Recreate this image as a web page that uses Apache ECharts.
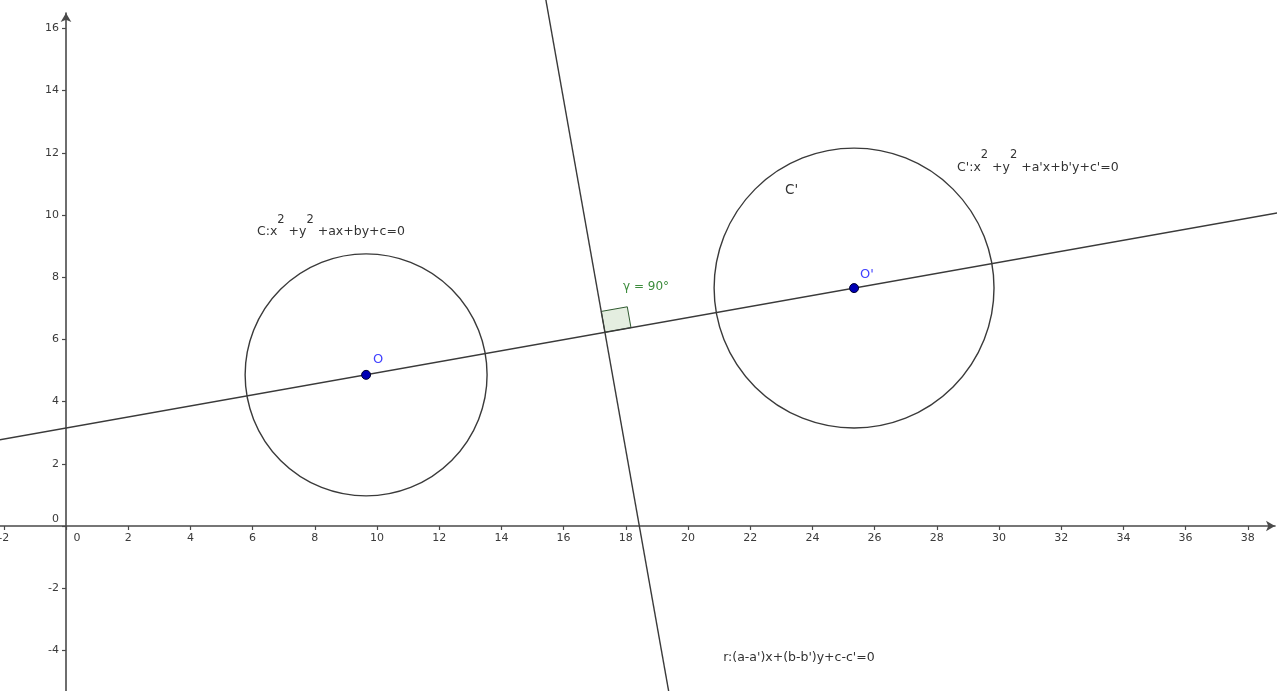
<!DOCTYPE html>
<html>
<head>
<meta charset="utf-8">
<script src="https://cdn.jsdelivr.net/npm/echarts@6/dist/echarts.min.js"></script>
<style>
html,body{margin:0;padding:0;background:#fff;}
#chart{width:1282px;height:691px;}
</style>
</head>
<body>
<div id="chart"></div>
<script>
// ---- data ----
const xTickValues = [-2,0,2,4,6,8,10,12,14,16,18,20,22,24,26,28,30,32,34,36,38];
const yTickValues = [-4,-2,0,2,4,6,8,10,12,14,16];
// circles: [centerX, centerY, radius]
const circleC = [9.65, 4.86, 3.89];
const circleC2 = [25.34, 7.65, 4.5];
// points
const pointNames = ['O', "O'"];
const pointValues = [[9.65, 4.86], [25.34, 7.65]];
// line through the centres
const centerLine = [[-2.3, 2.74], [39.3, 10.13]];
// radical axis r
const radicalLine = [[15.38, 17.2], [19.43, -5.6]];
// right-angle marker vertex (intersection) and side lengths
const angleVertex = [17.33, 6.23];
const angleSides = [0.85, 0.68];
// text annotations
const labelTexts = [
  'C:x{s|2} +y{s|2} +ax+by+c=0',
  "C':x{s|2} +y{s|2} +a'x+b'y+c'=0",
  "r:(a-a')x+(b-b')y+c-c'=0",
  "C'",
  'O',
  "O'",
  'γ = 90°'
];
const labelAnchors = [
  [6.14, 9.45], [28.65, 11.53], [21.13, -4.24], [23.12, 10.79], [9.87, 5.34], [25.53, 8.07], [17.91, 7.68]
];
const labelKinds = ['eq','eq','eq','name','blue','blue','green'];

// ---- chart ----
const FONT = '"DejaVu Sans", "Liberation Sans", Arial, sans-serif';
const kindColor = {eq:'#333333', name:'#333333', blue:'#3f3fff', green:'#3c8c3c'};
const kindSize = {eq:12.5, name:13.5, blue:13, green:12};

const W = 1282, H = 691;
const gridBox = {left:0, right:7, top:13, bottom:0};
const xMin = -2.122, xMax = 38.875, yMin = -5.305, yMax = 16.495;
const gridW = W - gridBox.left - gridBox.right;
const gridH = H - gridBox.top - gridBox.bottom;
// move each axis onto the other axis' zero (labels follow)
const xAxisOffset = -gridH * (0 - yMin) / (yMax - yMin);
const yAxisOffset = -gridW * (0 - xMin) / (xMax - xMin);

const chart = echarts.init(document.getElementById('chart'), null, {renderer:'canvas'});

function axisCommon(tickVals, isX){
  return {
    type:'value',
    splitLine:{show:false},
    axisLine:{onZero:false, symbol:['none','arrow'], symbolSize:[8,9], lineStyle:{color:'#4a4a4a', width:1.6}},
    axisTick:{show:true, length:4, customValues:tickVals, lineStyle:{color:'#4a4a4a', width:1.2}},
    axisLabel:{
      customValues:tickVals, color:'#3a3a3a', fontSize:11, fontFamily:FONT, margin:7,
      formatter: v => (v === 0 ? '{z|0}' : String(v)),
      rich:{ z: isX ? {padding:[0,0,0,22], fontSize:11, color:'#3a3a3a', fontFamily:FONT}
                    : {padding:[0,0,14,0], fontSize:11, color:'#3a3a3a', fontFamily:FONT} }
    }
  };
}

const circleSeries = {
  type:'custom', clip:false, silent:true,
  data:[circleC, circleC2],
  renderItem:(params, api) => {
    const c = api.coord([api.value(0), api.value(1)]);
    const s = api.size([api.value(2), api.value(2)]);
    return {type:'circle', shape:{cx:c[0], cy:c[1], r:(s[0]+s[1])/2},
      style:{fill:'none', stroke:'#3a3a3a', lineWidth:1.4}};
  }
};

function unit(a, b){ const dx=b[0]-a[0], dy=b[1]-a[1]; const l=Math.hypot(dx,dy); return [dx/l, dy/l]; }
const uDir = unit(centerLine[0], centerLine[1]);
const vDir = unit(radicalLine[1], radicalLine[0]);

const angleSeries = {
  type:'custom', clip:false, silent:true,
  data:[angleVertex],
  renderItem:(params, api) => {
    const P = [api.value(0), api.value(1)];
    const a = angleSides[0], b = angleSides[1];
    const pts = [
      P,
      [P[0]+a*uDir[0], P[1]+a*uDir[1]],
      [P[0]+a*uDir[0]+b*vDir[0], P[1]+a*uDir[1]+b*vDir[1]],
      [P[0]+b*vDir[0], P[1]+b*vDir[1]]
    ].map(p => api.coord(p));
    return {type:'polygon', shape:{points:pts}, style:{fill:'#e4eee0', stroke:'#2f5a2f', lineWidth:1}};
  }
};

const labelSeries = {
  type:'custom', clip:false, silent:true,
  data:labelAnchors.map((p,i)=>[p[0],p[1],i]),
  renderItem:(params, api) => {
    const i = api.value(2);
    const c = api.coord([api.value(0), api.value(1)]);
    const kind = labelKinds[i];
    const col = kindColor[kind];
    const fs = kindSize[kind];
    return {type:'text', x:c[0], y:c[1], z2:10,
      style:{text:labelTexts[i], fill:col, fontSize:fs, fontFamily:FONT, align:'left', verticalAlign:'middle',
        rich:{ s:{fontSize:11.5, fontFamily:FONT, fill:col, padding:[0,0,24,0]} }}};
  }
};

chart.setOption({
  animation:false,
  backgroundColor:'#ffffff',
  grid:{left:gridBox.left, right:gridBox.right, top:gridBox.top, bottom:gridBox.bottom, containLabel:false, outerBoundsMode:'none'},
  xAxis: Object.assign(axisCommon(xTickValues, true), {min:xMin, max:xMax, position:'bottom', offset:xAxisOffset}),
  yAxis: Object.assign(axisCommon(yTickValues, false), {min:yMin, max:yMax, position:'left', offset:yAxisOffset}),
  series:[
    {type:'line', clip:false, silent:true, symbol:'none', data:centerLine, lineStyle:{color:'#3a3a3a', width:1.4}},
    {type:'line', clip:false, silent:true, symbol:'none', data:radicalLine, lineStyle:{color:'#3a3a3a', width:1.4}},
    circleSeries,
    angleSeries,
    {type:'scatter', clip:false, silent:true, symbolSize:9, z:5,
      data:pointValues.map((v,i)=>({name:pointNames[i], value:v})),
      itemStyle:{color:'#0000b4', borderColor:'#000030', borderWidth:1, opacity:1}},
    labelSeries
  ]
});
</script>
</body>
</html>
